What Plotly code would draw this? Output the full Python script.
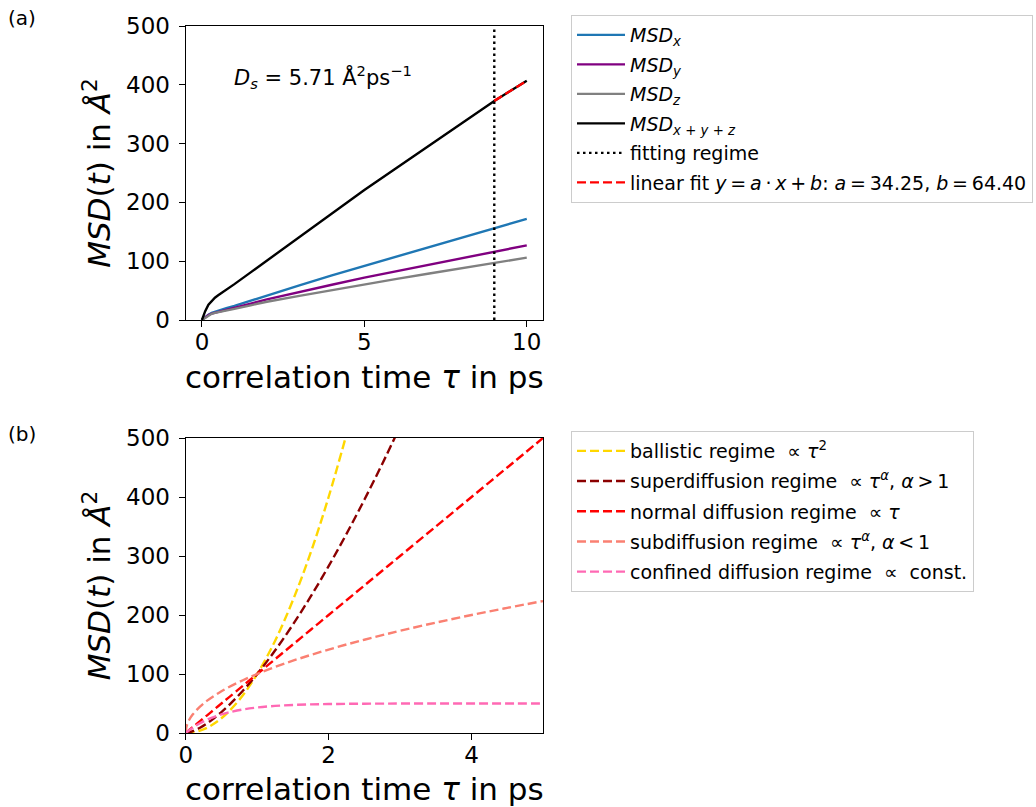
import plotly.graph_objects as go

# ---------------- Panel (a) data ----------------
tau_a = [0, 0.1, 0.2, 0.3, 0.4, 0.5, 0.75, 1, 1.5, 2, 3, 4, 5, 6, 7, 8, 9, 10]
msd_x = [0, 5, 9, 12, 14, 16, 20, 24, 33, 42, 59, 76, 92, 108, 124, 140, 157, 172]
msd_y = [0, 4.5, 8.5, 11, 12.5, 14, 17.5, 21, 28, 35, 48, 60, 72, 83, 94, 105, 117, 127]
msd_z = [0, 4, 8, 10.5, 12, 13, 16, 19, 25, 31, 41, 51, 61, 70, 79, 88, 97, 106]
msd_tot = [0, 15, 26, 33, 38, 42, 51, 61, 81, 101, 141, 181, 221, 259, 297, 335, 372.6, 406.9]
fit_start, fit_end = 9.0, 10.0
fit_a, fit_b = 34.25, 64.40
fit_x = [fit_start, fit_end]
fit_y = [fit_a * x + fit_b for x in fit_x]

# ---------------- Panel (b) data ----------------
tau_b = [0, 0.01, 0.02, 0.05, 0.1, 0.2, 0.3, 0.4, 0.5, 0.6, 0.8, 1.0, 1.25, 1.5,
         1.75, 2.0, 2.25, 2.5, 2.75, 3.0, 3.5, 4.0, 4.5, 5.0]
ballistic = [0, 0.01, 0.04, 0.25, 1, 4, 9, 16, 25, 36, 64, 100, 156, 225,
             306, 400, 506, None, None, None, None, None, None, None]
superdiff = [0, 0.1, 0.28, 1.12, 3.16, 8.94, 16.4, 25.3, 35.4, 46.5, 71.6, 100, 139.8, 183.7,
             231.5, 282.8, 337.5, 395.3, 456.0, 519.6, None, None, None, None]
normal = [0, 1, 2, 5, 10, 20, 30, 40, 50, 60, 80, 100, 125, 150,
          175, 200, 225, 250, 275, 300, 350, 400, 450, 500]
subdiff = [0, 10, 14.1, 22.4, 31.6, 44.7, 54.8, 63.2, 70.7, 77.5, 89.4, 100, 111.8, 122.5,
           132.3, 141.4, 150, 158.1, 165.8, 173.2, 187.1, 200, 212.1, 223.6]
confined = [0, 1, 2, 4.76, 9.06, 16.5, 22.6, 27.5, 31.6, 34.9, 39.9, 43.2, 45.9, 47.5,
            48.5, 49.1, 49.4, 49.7, 49.8, 49.9, 50, 50, 50, 50]

FONT = "DejaVu Sans"
LW = 2.4
DASH = "9px,4px"
TS = "\u2009"  # thin space for math-like spacing

fig = go.Figure()

a_series = [
    (msd_x, "#1f77b4", "<i>MSD</i><sub><i>x</i></sub>"),
    (msd_y, "#800080", "<i>MSD</i><sub><i>y</i></sub>"),
    (msd_z, "#808080", "<i>MSD</i><sub><i>z</i></sub>"),
    (msd_tot, "black", "<i>MSD</i><sub><i>x</i> + <i>y</i> + <i>z</i></sub>"),
]
for i, (ys, col, nm) in enumerate(a_series):
    fig.add_trace(go.Scatter(x=tau_a, y=ys, mode="lines", line=dict(color=col, width=LW),
                             name=nm, xaxis="x", yaxis="y", legend="legend", legendgroup=f"a{i}"))
fig.add_trace(go.Scatter(x=[fit_start, fit_start], y=[0, 500], mode="lines",
                         line=dict(color="black", width=LW, dash="2.5px,3.5px"),
                         name="fitting regime", xaxis="x", yaxis="y", legend="legend", legendgroup="a4"))
fit_name = (f"linear fit <i>y</i>{TS}={TS}<i>a</i>{TS}·{TS}<i>x</i>{TS}+{TS}<i>b</i>: "
            f"<i>a</i>{TS}={TS}34.25, <i>b</i>{TS}={TS}64.40")
fig.add_trace(go.Scatter(x=fit_x, y=fit_y, mode="lines", line=dict(color="red", width=LW, dash=DASH),
                         name=fit_name, xaxis="x", yaxis="y", legend="legend", legendgroup="a5"))

# panel b traces
b_series = [
    (ballistic, "#FFD700", "ballistic regime  ∝ <i>τ</i><sup>2</sup>"),
    (superdiff, "#8B0000", f"superdiffusion regime  ∝ <i>τ</i><sup><i>α</i></sup>, <i>α</i>{TS}>{TS}1"),
    (normal, "#FF0000", "normal diffusion regime  ∝ <i>τ</i>"),
    (subdiff, "#FA8072", f"subdiffusion regime  ∝ <i>τ</i><sup><i>α</i></sup>, <i>α</i>{TS}<{TS}1"),
    (confined, "#FF69B4", "confined diffusion regime  ∝  const."),
]
for i, (ys, col, nm) in enumerate(b_series):
    fig.add_trace(go.Scatter(x=tau_b, y=ys, mode="lines", line=dict(color=col, width=LW, dash=DASH, shape="spline"),
                             name=nm, xaxis="x2", yaxis="y2", legend="legend2", legendgroup=f"b{i}",
                             connectgaps=False))

W, H = 1036, 807
xd = [185.7 / W, 543 / W]
ya = [1 - 320 / H, 1 - 26 / H]
yb = [1 - 733 / H, 1 - 438 / H]

axis_common = dict(showline=True, linecolor="black", linewidth=1.2, mirror=True,
                   ticks="outside", ticklen=6, tickwidth=1.2, tickcolor="black",
                   showgrid=False, zeroline=False, automargin=False,
                   tickfont=dict(family=FONT, size=23, color="black"))
title_font = dict(family=FONT, size=31, color="black")
xt = "correlation time <i>τ</i> in ps"
yt = "<i>MSD</i>(<i>t</i>) in <i>Å</i><sup>2</sup>"

fig.update_layout(
    width=W, height=H,
    margin=dict(l=0, r=0, t=0, b=0, autoexpand=False),
    paper_bgcolor="white", plot_bgcolor="white",
    font=dict(family=FONT, color="black"),
    xaxis=dict(domain=xd, range=[-0.5, 10.5], tickvals=[0, 5, 10], anchor="y", ticklabelstandoff=-5,
               title=dict(text=xt, font=title_font, standoff=12), **axis_common),
    yaxis=dict(domain=ya, range=[0, 500], tickvals=[0, 100, 200, 300, 400, 500], anchor="x", ticklabelstandoff=4,
               title=dict(text=yt, font=title_font, standoff=6), **axis_common),
    xaxis2=dict(domain=xd, range=[0, 5], tickvals=[0, 2, 4], anchor="y2", ticklabelstandoff=-5,
                title=dict(text=xt, font=title_font, standoff=12), **axis_common),
    yaxis2=dict(domain=yb, range=[0, 500], tickvals=[0, 100, 200, 300, 400, 500], anchor="x2", ticklabelstandoff=4,
                title=dict(text=yt, font=title_font, standoff=6), **axis_common),
    legend=dict(x=571 / W, y=1 - 15 / H, xanchor="left", yanchor="top", itemwidth=48,
                tracegroupgap=1.8, bordercolor="#cccccc", borderwidth=1, bgcolor="white",
                font=dict(family=FONT, size=19, color="black")),
    legend2=dict(x=571 / W, y=1 - 431 / H, xanchor="left", yanchor="top", itemwidth=48,
                 tracegroupgap=2.5, bordercolor="#cccccc", borderwidth=1, bgcolor="white",
                 font=dict(family=FONT, size=19, color="black")),
    annotations=[
        dict(text="<i>D</i><sub><i>s</i></sub> = 5.71 Å<sup>2</sup>ps<sup>−1</sup>", x=232 / W, y=1 - 77 / H,
             xref="paper", yref="paper", xanchor="left", yanchor="middle", showarrow=False,
             font=dict(family=FONT, size=21, color="black")),
        dict(text="(a)", x=6 / W, y=1 - 18 / H, xref="paper", yref="paper", xanchor="left", yanchor="middle",
             showarrow=False, font=dict(family=FONT, size=20, color="black")),
        dict(text="(b)", x=6 / W, y=1 - 434 / H, xref="paper", yref="paper", xanchor="left", yanchor="middle",
             showarrow=False, font=dict(family=FONT, size=20, color="black")),
    ],
)

fig.write_html("out.html")
